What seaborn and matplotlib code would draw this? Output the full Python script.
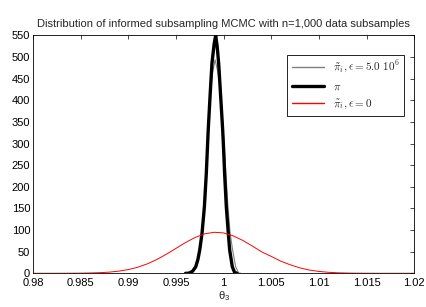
import numpy as np
import pandas as pd
import matplotlib
matplotlib.use('Agg')
import matplotlib.pyplot as plt
from matplotlib.lines import Line2D
from matplotlib.ticker import FuncFormatter, MultipleLocator
import seaborn as sns

# density curves
approx_x = [0.9960, 0.99623, 0.99644, 0.99707, 0.99749, 0.99798, 0.99830, 0.99857, 0.99880,
            0.99910, 0.99935, 0.99955, 0.99974, 1.00005, 1.00024, 1.00045, 1.00068, 1.00094,
            1.00126, 1.00157, 1.00180]
approx_y = [0, 0, 1, 15, 54, 154, 300, 400, 460, 494, 470, 440, 400, 300, 230, 154, 92, 54,
            15, 1, 0]

exact_x = [0.9960, 0.99623, 0.99644, 0.99675, 0.99707, 0.99730, 0.99749, 0.99773, 0.99798,
           0.99818, 0.99838, 0.99857, 0.99877, 0.99900, 0.99916, 0.99932, 0.99948, 0.99969,
           0.99990, 1.00000, 1.00010, 1.00028, 1.00049, 1.00063, 1.00091, 1.00115, 1.00140]
exact_y = [0, 0, 1, 5, 15, 32, 54, 92, 154, 231, 331, 408, 485, 530, 550, 525, 485, 408,
           331, 285, 231, 154, 92, 54, 15, 2, 0]

eps0_x = [0.980, 0.981, 0.982, 0.983, 0.984, 0.985, 0.986, 0.987, 0.988, 0.989, 0.990,
          0.991, 0.992, 0.993, 0.994, 0.995, 0.996, 0.997, 0.998, 0.999, 1.000, 1.001,
          1.002, 1.003, 1.004, 1.005, 1.006, 1.007, 1.008, 1.009, 1.010, 1.011, 1.012,
          1.013, 1.014, 1.015, 1.016, 1.017, 1.018, 1.019, 1.020]
eps0_y = [0, 0, 0, 0.05, 0.15, 0.3, 0.7, 1.4, 2.7, 5.0, 8.6, 14.1, 21.9, 32.0, 44.2, 57.6,
          71.1, 82.8, 91.2, 94.9, 93.3, 86.6, 76.1, 63.1, 49.4, 39.0, 28.0, 19.5, 12.5, 7.5,
          4.3, 2.3, 1.1, 0.5, 0.2, 0.1, 0, 0, 0, 0, 0]

labels = [r'$\tilde{\pi}_i, \epsilon = 5.0\ 10^6$', r'$\pi$', r'$\tilde{\pi}_i, \epsilon = 0$']
colors = ['#7f7f7f', 'black', '#ff0000']
widths = [0.8, 2.4, 0.7]

sns.set_style('white')
plt.rcParams['font.family'] = ['Liberation Sans', 'DejaVu Sans']
plt.rcParams['mathtext.fontset'] = 'cm'

fig = plt.figure(figsize=(4.26, 3.07), dpi=100)
ax = fig.add_axes([0.0775, 0.1098, 0.895, 0.7746])

curves = [(approx_x, approx_y), (exact_x, exact_y), (eps0_x, eps0_y)]
for (xs, ys), c, w in zip(curves, colors, widths):
    sns.lineplot(x=xs, y=ys, color=c, lw=w, ax=ax)

ax.set_xlim(0.98, 1.02)
ax.set_ylim(0, 550)
ax.xaxis.set_major_locator(MultipleLocator(0.005))
ax.yaxis.set_major_locator(MultipleLocator(50))
ax.xaxis.set_major_formatter(FuncFormatter(lambda v, p: '%g' % round(v, 4)))
ax.tick_params(direction='in', length=3, width=0.5, labelsize=8, top=True, right=True,
               colors='black', pad=2)
ax.tick_params(axis='x', pad=3.5)
for s in ax.spines.values():
    s.set_visible(True)
    s.set_color('black')
    s.set_linewidth(0.6)

ax.set_title('Distribution of informed subsampling MCMC with n=1,000 data subsamples',
             fontsize=8, pad=6)
ax.set_xlabel(r'$\mathregular{\theta_3}$', fontsize=8, labelpad=0.5)
ax.set_ylabel('')

# legend handles a bit heavier so the thin lines stay visible in the key
handles = [Line2D([], [], color=c, lw=max(w, 1.0)) for c, w in zip(colors, widths)]
leg = ax.legend(handles=handles, labels=labels, loc='upper right',
                bbox_to_anchor=(0.974, 0.918), borderaxespad=0,
                fontsize=8, handlelength=2.9, labelspacing=0.55, fancybox=False,
                framealpha=1, edgecolor='black')
leg.get_frame().set_linewidth(0.6)

fig.savefig('out.png', dpi=100)
